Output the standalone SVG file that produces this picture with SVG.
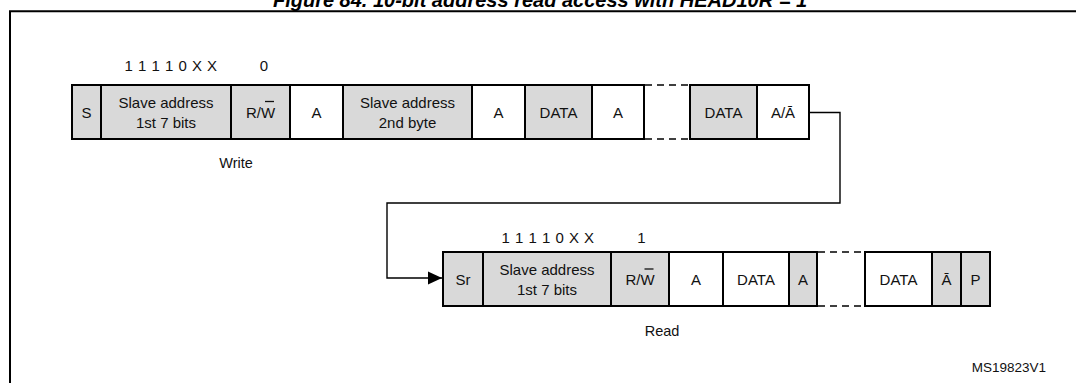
<svg xmlns="http://www.w3.org/2000/svg" width="1076" height="383" viewBox="0 0 1076 383">
<style>
text{font-family:"Liberation Sans",Arial,sans-serif;font-size:15px;fill:#111;text-anchor:middle}
.g{fill:#d9d9d9;stroke:#000;stroke-width:2}
.w{fill:#fff;stroke:#000;stroke-width:2}
.dash{stroke:#000;stroke-width:1.4;stroke-dasharray:7 5;fill:none}
.ob{stroke:#111;stroke-width:1.3}
.title{font-weight:bold;font-style:italic;font-size:20px;fill:#000}
.lbl{font-size:14.5px}
.bits{letter-spacing:0.5px}
.code{font-size:13.5px;text-anchor:end}
</style>
<defs>
<marker id="arr" markerUnits="userSpaceOnUse" markerWidth="16" markerHeight="16" refX="14" refY="7" orient="auto">
<path d="M0,0.5 L14,7 L0,13.5 Z" fill="#000"/>
</marker>
</defs>
<text class="title" x="540" y="7">Figure 84. 10-bit address read access with HEAD10R = 1</text>
<path d="M10,383 V11.3 H1076" fill="none" stroke="#000" stroke-width="2"/>

<!-- Write frame -->
<g id="write-labels">
<text class="bits" x="171" y="71">1 1 1 1 0 X X</text>
<text x="264" y="71">0</text>
<text class="lbl" x="236" y="168">Write</text>
</g>
<g id="w-S"><rect class="g" x="72" y="85" width="29" height="54"/><text x="86.5" y="117.5">S</text></g>
<g id="w-SA1"><rect class="g" x="101" y="85" width="130" height="54"/><text x="166" y="108">Slave address</text><text x="166" y="128">1st 7 bits</text></g>
<g id="w-RW"><rect class="g" x="231" y="85" width="59" height="54"/><text x="260.5" y="117.5">R/W</text><line class="ob" x1="265" y1="101.5" x2="274" y2="101.5"/></g>
<g id="w-A1"><rect class="w" x="290" y="85" width="53" height="54"/><text x="316.5" y="117.5">A</text></g>
<g id="w-SA2"><rect class="g" x="343" y="85" width="129" height="54"/><text x="407.5" y="108">Slave address</text><text x="407.5" y="128">2nd byte</text></g>
<g id="w-A2"><rect class="w" x="472" y="85" width="53" height="54"/><text x="498.5" y="117.5">A</text></g>
<g id="w-DATA1"><rect class="g" x="525" y="85" width="67" height="54"/><text x="558.5" y="117.5">DATA</text></g>
<g id="w-A3"><rect class="w" x="592" y="85" width="52" height="54"/><text x="618" y="117.5">A</text></g>
<g id="w-gap"><line class="dash" x1="645" y1="85" x2="690" y2="85"/><line class="dash" x1="645" y1="139" x2="690" y2="139"/></g>
<g id="w-DATA2"><rect class="g" x="690" y="85" width="67" height="54"/><text x="723.5" y="117.5">DATA</text></g>
<g id="w-AA"><rect class="w" x="757" y="85" width="52" height="54"/><text x="783" y="117.5">A/Ā</text></g>

<!-- Read frame -->
<g id="read-labels">
<text class="bits" x="548" y="243">1 1 1 1 0 X X</text>
<text x="641.5" y="243">1</text>
<text class="lbl" x="662" y="336">Read</text>
</g>
<g id="r-Sr"><rect class="g" x="443" y="252" width="40" height="54"/><text x="463" y="284.5">Sr</text></g>
<g id="r-SA1"><rect class="g" x="483" y="252" width="128" height="54"/><text x="547" y="275">Slave address</text><text x="547" y="295">1st 7 bits</text></g>
<g id="r-RW"><rect class="g" x="611" y="252" width="58" height="54"/><text x="640" y="284.5">R/W</text><line class="ob" x1="644.5" y1="269" x2="653.5" y2="269"/></g>
<g id="r-A1"><rect class="w" x="669" y="252" width="54" height="54"/><text x="696" y="284.5">A</text></g>
<g id="r-DATA1"><rect class="w" x="723" y="252" width="66" height="54"/><text x="756" y="284.5">DATA</text></g>
<g id="r-A2"><rect class="g" x="789" y="252" width="28" height="54"/><text x="803" y="284.5">A</text></g>
<g id="r-gap"><line class="dash" x1="818" y1="252" x2="865" y2="252"/><line class="dash" x1="818" y1="306" x2="865" y2="306"/></g>
<g id="r-DATA2"><rect class="w" x="865" y="252" width="67" height="54"/><text x="898.5" y="284.5">DATA</text></g>
<g id="r-NA"><rect class="g" x="932" y="252" width="29" height="54"/><text x="946.5" y="284.5">Ā</text></g>
<g id="r-P"><rect class="g" x="961" y="252" width="29" height="54"/><text x="975.5" y="284.5">P</text></g>

<g id="connectors">
<path d="M810,112.5 H840 V203 H387 V278 H442" fill="none" stroke="#000" stroke-width="1.4" marker-end="url(#arr)"/>
</g>

<text class="code" x="1046" y="372">MS19823V1</text>
</svg>
